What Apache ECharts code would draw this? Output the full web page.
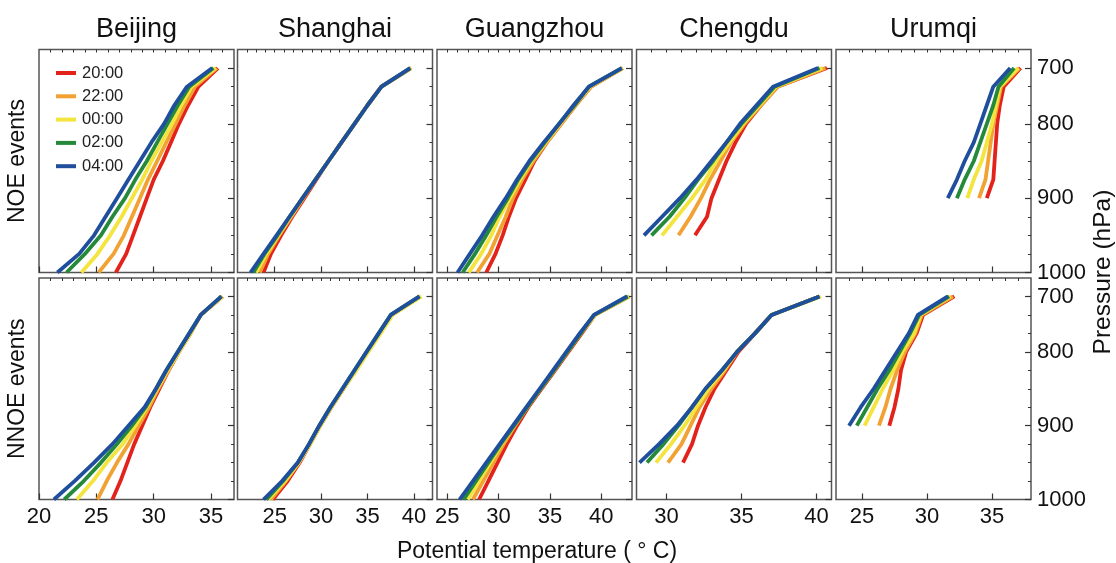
<!DOCTYPE html>
<html>
<head>
<meta charset="utf-8">
<script src="https://cdn.jsdelivr.net/npm/echarts@6/dist/echarts.min.js"></script>
<style>
html,body{margin:0;padding:0;background:#fff;}
#chart{width:1116px;height:563px;}
</style>
</head>
<body>
<div id="chart"></div>
<script>
// ---------- data ----------
const LEVELS = ['650','700','750','775','800','825','850','875','900','925','950','975','1000'];
const P_LABELS = ['700','800','900','1000'];
const TIMES = ['20:00','22:00','00:00','02:00','04:00'];
const CITIES = ['Beijing','Shanghai','Guangzhou','Chengdu','Urumqi'];
const ROWS = ['NOE events','NNOE events'];
const X_MIN = [20, 21, 24, 28, 23];
const X_MAX = [37, 42, 43, 41, 38];
const X_TICKS = [[20,25,30,35],[25,30,35,40],[25,30,35,40],[30,35,40],[25,30,35]];

// values listed from 700 hPa downward; order: 20:00, 22:00, 00:00, 02:00, 04:00
const beijingNOE = [
  [35.6, 33.9, 33.0, 32.2, 31.5, 30.8, 30.0, 29.4, 28.8, 28.2, 27.6, 26.7],
  [35.5, 33.6, 32.7, 31.9, 31.1, 30.3, 29.5, 28.8, 28.1, 27.4, 26.5, 25.2],
  [35.4, 33.3, 32.4, 31.6, 30.7, 29.8, 29.0, 28.1, 27.2, 26.2, 25.1, 23.7],
  [35.2, 33.1, 32.1, 31.2, 30.3, 29.4, 28.4, 27.5, 26.4, 25.4, 24.0, 22.4],
  [35.1, 32.9, 31.8, 30.9, 29.8, 28.8, 27.8, 26.8, 25.8, 24.8, 23.5, 21.6]
];
const shanghaiNOE = [
  [39.7, 36.5, 35.0, 33.6, 32.2, 30.8, 29.5, 28.2, 26.9, 25.7, 24.6, 23.8],
  [39.7, 36.5, 35.0, 33.6, 32.2, 30.8, 29.4, 28.1, 26.8, 25.5, 24.3, 23.4],
  [39.7, 36.5, 35.0, 33.6, 32.2, 30.8, 29.4, 28.0, 26.7, 25.4, 24.1, 23.0],
  [39.6, 36.5, 35.0, 33.6, 32.2, 30.8, 29.4, 28.0, 26.6, 25.3, 23.9, 22.7],
  [39.6, 36.5, 35.0, 33.6, 32.2, 30.8, 29.4, 28.0, 26.6, 25.2, 23.8, 22.4]
];
const guangzhouNOE = [
  [42.1, 39.0, 37.5, 36.1, 34.7, 33.5, 32.6, 31.7, 31.0, 30.4, 29.7, 28.8],
  [42.1, 39.0, 37.5, 36.1, 34.7, 33.4, 32.3, 31.4, 30.7, 29.9, 29.1, 27.9],
  [42.1, 38.9, 37.4, 36.0, 34.6, 33.2, 32.1, 31.1, 30.1, 29.3, 28.3, 27.1],
  [42.0, 38.8, 37.4, 35.9, 34.5, 33.1, 31.9, 30.9, 29.8, 28.8, 27.7, 26.5],
  [42.0, 38.8, 37.3, 35.9, 34.4, 33.0, 31.8, 30.7, 29.5, 28.4, 27.2, 26.0]
];
const chengduNOE = [
  [40.7, 37.4, 36.3, 35.3, 34.6, 34.0, 33.5, 33.0, 32.7, 31.9],
  [40.6, 37.4, 36.3, 35.2, 34.3, 33.6, 32.9, 32.3, 31.6, 30.8],
  [40.4, 37.3, 36.2, 35.1, 34.2, 33.3, 32.6, 31.7, 30.7, 29.7],
  [40.2, 37.2, 36.1, 35.0, 34.0, 33.1, 32.1, 31.2, 30.2, 29.0],
  [40.1, 37.1, 36.0, 34.9, 34.0, 33.0, 32.0, 30.9, 29.7, 28.5]
];
const urumqiNOE = [
  [37.2, 35.9, 35.6, 35.4, 35.3, 35.2, 35.1, 34.6],
  [37.1, 35.7, 35.4, 35.1, 34.9, 34.7, 34.5, 34.0],
  [37.0, 35.6, 35.3, 35.0, 34.6, 34.2, 33.6, 33.1],
  [36.7, 35.5, 35.1, 34.6, 34.1, 33.6, 32.9, 32.3],
  [36.4, 35.1, 34.6, 34.1, 33.6, 32.9, 32.3, 31.6]
];
const beijingNNOE = [
  [36.0, 34.1, 33.2, 32.2, 31.3, 30.5, 29.7, 29.0, 28.3, 27.7, 27.1, 26.4],
  [36.0, 34.1, 33.2, 32.2, 31.3, 30.4, 29.6, 28.7, 27.8, 26.8, 25.9, 25.1],
  [36.0, 34.1, 33.2, 32.2, 31.2, 30.3, 29.4, 28.4, 27.3, 25.9, 24.7, 23.3],
  [35.9, 34.1, 33.1, 32.1, 31.1, 30.2, 29.3, 28.1, 26.8, 25.4, 23.9, 22.2],
  [35.9, 34.1, 33.1, 32.1, 31.1, 30.2, 29.2, 27.8, 26.4, 24.8, 23.1, 21.3]
];
const shanghaiNNOE = [
  [40.7, 37.6, 36.3, 35.0, 33.7, 32.4, 31.1, 29.9, 28.8, 27.7, 26.4, 24.8],
  [40.7, 37.6, 36.3, 35.0, 33.7, 32.4, 31.1, 29.9, 28.8, 27.6, 26.2, 24.6],
  [40.8, 37.7, 36.4, 35.1, 33.8, 32.4, 31.1, 29.9, 28.8, 27.6, 26.1, 24.3],
  [40.6, 37.5, 36.2, 34.9, 33.6, 32.3, 31.0, 29.8, 28.7, 27.5, 25.9, 24.1],
  [40.6, 37.5, 36.2, 34.9, 33.6, 32.3, 31.0, 29.8, 28.7, 27.5, 25.8, 23.8]
];
const guangzhouNNOE = [
  [42.7, 39.4, 38.1, 36.8, 35.5, 34.2, 32.9, 31.8, 30.8, 29.9, 29.0, 28.1],
  [42.7, 39.4, 38.0, 36.7, 35.4, 34.1, 32.8, 31.6, 30.5, 29.5, 28.5, 27.5],
  [42.7, 39.4, 38.0, 36.7, 35.4, 34.1, 32.8, 31.5, 30.3, 29.2, 28.1, 27.0],
  [42.6, 39.3, 38.0, 36.7, 35.4, 34.1, 32.8, 31.5, 30.2, 29.0, 27.8, 26.6],
  [42.5, 39.3, 37.9, 36.6, 35.3, 34.0, 32.7, 31.4, 30.1, 28.8, 27.5, 26.2]
];
const chengduNNOE = [
  [40.2, 37.0, 35.9, 34.8, 34.0, 33.2, 32.6, 32.1, 31.7, 31.1],
  [40.2, 37.0, 35.9, 34.7, 33.9, 33.0, 32.2, 31.6, 31.0, 30.1],
  [40.3, 37.0, 35.9, 34.7, 33.8, 32.8, 32.0, 31.2, 30.3, 29.3],
  [40.2, 37.0, 35.9, 34.7, 33.7, 32.6, 31.7, 30.8, 29.8, 28.7],
  [40.2, 37.0, 35.9, 34.7, 33.7, 32.6, 31.7, 30.7, 29.5, 28.2]
];
const urumqiNNOE = [
  [32.1, 29.7, 29.2, 28.4, 28.0, 27.8, 27.5, 27.1],
  [32.0, 29.6, 29.1, 28.3, 27.7, 27.2, 26.8, 26.3],
  [31.8, 29.5, 29.0, 28.1, 27.4, 26.6, 25.9, 25.2],
  [31.7, 29.4, 28.7, 27.9, 27.1, 26.2, 25.4, 24.6],
  [31.6, 29.3, 28.6, 27.7, 26.8, 25.9, 24.9, 24.0]
];
const PANELS = [
  [beijingNOE, shanghaiNOE, guangzhouNOE, chengduNOE, urumqiNOE],
  [beijingNNOE, shanghaiNNOE, guangzhouNNOE, chengduNNOE, urumqiNNOE]
];

// ---------- style / layout ----------
const COLORS = ['#e3221b', '#f2a233', '#f3e43e', '#248a3a', '#1f4f9c'];
const FONT = '"Liberation Sans", Arial, sans-serif';
const GRID_LEFT = [39, 237.5, 437, 636.5, 836];
const GRID_W = 195;
const ROW_TOP = [49.5, 278];
const ROW_H = [223, 221.5];

const grids = [], xAxes = [], yAxes = [], series = [];
let p = 0;
for (let r = 0; r < 2; r++) {
  for (let c = 0; c < 5; c++) {
    grids.push({
      left: GRID_LEFT[c], top: ROW_TOP[r], width: GRID_W, height: ROW_H[r],
      show: true, borderColor: '#555', borderWidth: 1.5, backgroundColor: 'transparent'
    });
    const minorVals = [];
    for (let v = X_MIN[c] + 1; v < X_MAX[c]; v++) minorVals.push(v);
    xAxes.push({
      gridIndex: p, type: 'value', min: X_MIN[c], max: X_MAX[c],
      axisLine: {show: false}, splitLine: {show: false},
      axisTick: {show: true, inside: true, length: 6, customValues: X_TICKS[c], lineStyle: {color: '#333', width: 1.2}},
      axisLabel: {show: r === 1, customValues: X_TICKS[c], fontSize: 22, color: '#111', fontFamily: FONT, margin: 6}
    });
    xAxes.push({
      gridIndex: p, type: 'value', min: X_MIN[c], max: X_MAX[c],
      axisLine: {show: false}, splitLine: {show: false},
      axisTick: {show: true, inside: true, length: 3, customValues: minorVals, lineStyle: {color: '#333', width: 1}},
      axisLabel: {show: false}
    });
    yAxes.push({
      gridIndex: p, type: 'category', data: LEVELS, inverse: true, boundaryGap: false, position: 'right',
      axisLine: {show: false}, splitLine: {show: false},
      axisTick: {show: true, inside: true, length: 6, lineStyle: {color: '#333', width: 1.2},
        interval: (i, v) => P_LABELS.indexOf(v) >= 0},
      axisLabel: {show: c === 4, fontSize: 22, color: '#111', fontFamily: FONT, margin: 6,
        interval: (i, v) => P_LABELS.indexOf(v) >= 0}
    });
    yAxes.push({
      gridIndex: p, type: 'category', data: LEVELS, inverse: true, boundaryGap: false, position: 'right',
      axisLine: {show: false}, splitLine: {show: false},
      axisTick: {show: true, inside: true, length: 3, lineStyle: {color: '#333', width: 1},
        interval: (i, v) => i > 0 && P_LABELS.indexOf(v) < 0},
      axisLabel: {show: false}
    });
    const set = PANELS[r][c];
    for (let k = 0; k < 5; k++) {
      series.push({
        type: 'line', name: TIMES[k], xAxisIndex: 2 * p, yAxisIndex: 2 * p,
        symbol: 'none', silent: true,
        lineStyle: {color: COLORS[k], width: 3.8, join: 'round'},
        itemStyle: {color: COLORS[k]},
        data: set[k].map((t, j) => [t, LEVELS[j + 1]])
      });
    }
    p++;
  }
}

const graphics = [];
CITIES.forEach((name, c) => {
  graphics.push({type: 'text', x: GRID_LEFT[c] + GRID_W / 2, y: 30,
    style: {text: name, fontSize: 27, fill: '#111', fontFamily: FONT, align: 'center', verticalAlign: 'middle'}});
});
ROWS.forEach((name, r) => {
  graphics.push({type: 'text', x: 18, y: ROW_TOP[r] + ROW_H[r] / 2, rotation: Math.PI / 2,
    style: {text: name, fontSize: 23, fill: '#111', fontFamily: FONT, align: 'center', verticalAlign: 'middle'}});
});
graphics.push({type: 'text', x: 1103, y: 272, rotation: Math.PI / 2,
  style: {text: 'Pressure (hPa)', fontSize: 24.5, fill: '#111', fontFamily: FONT, align: 'center', verticalAlign: 'middle'}});
graphics.push({type: 'text', x: 537, y: 552,
  style: {text: 'Potential temperature ( \u00b0 C)', fontSize: 23, fill: '#111', fontFamily: FONT, align: 'center', verticalAlign: 'middle'}});

const chart = echarts.init(document.getElementById('chart'), null, {renderer: 'canvas'});
chart.setOption({
  animation: false,
  backgroundColor: '#fff',
  legend: {
    data: TIMES, orient: 'vertical', left: 51, top: 59.5,
    icon: 'rect', itemWidth: 20, itemHeight: 4, itemGap: 6.3,
    textStyle: {fontSize: 16.5, lineHeight: 16, color: '#222', fontFamily: FONT, padding: [0, 0, 0, 1]}
  },
  grid: grids,
  xAxis: xAxes,
  yAxis: yAxes,
  series: series,
  graphic: graphics
});
</script>
</body>
</html>
